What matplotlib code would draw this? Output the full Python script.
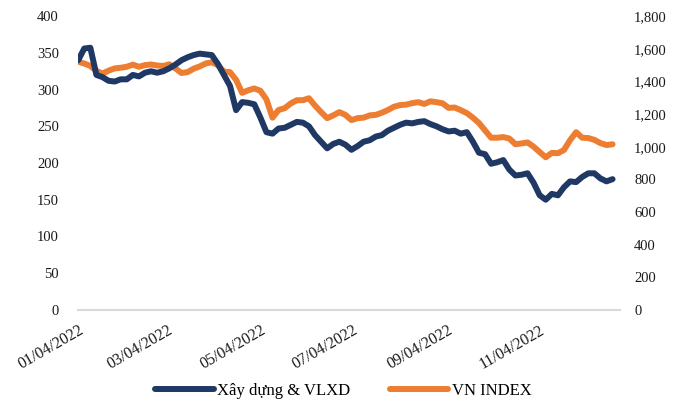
import matplotlib
matplotlib.use("Agg")
import matplotlib.pyplot as plt
import matplotlib.dates as mdates
import pandas as pd

# sampled every 4 calendar days from 04/01/2022
dates = pd.date_range("2022-01-04", periods=89, freq="4D")

xd_vlxd = [340, 356, 357, 320, 317, 312, 311, 314, 314, 320,
           318, 323, 325, 323, 325, 329, 334, 340, 344, 347,
           349, 348, 347, 335, 320, 305, 272, 283, 282, 280,
           262, 242, 240, 247, 248, 252, 256, 255, 250, 238,
           229, 220, 226, 229, 225, 218, 223, 229, 231, 236,
           238, 244, 248, 252, 255, 254, 256, 257, 253, 250,
           246, 243, 244, 240, 242, 229, 214, 212, 199, 201,
           204, 191, 183, 184, 186, 173, 156, 150, 158, 156,
           167, 175, 174, 181, 186, 186, 179, 175, 178]

vn_index = [1521, 1510, 1495, 1465, 1448, 1466, 1480, 1484, 1490, 1503,
            1490, 1500, 1504, 1498, 1495, 1505, 1480, 1452, 1457, 1478,
            1492, 1510, 1518, 1500, 1460, 1457, 1410, 1330, 1346, 1357,
            1343, 1290, 1178, 1225, 1236, 1265, 1285, 1285, 1297, 1252,
            1212, 1175, 1192, 1212, 1195, 1163, 1175, 1178, 1192, 1195,
            1208, 1225, 1245, 1255, 1258, 1267, 1273, 1262, 1278, 1273,
            1266, 1238, 1240, 1224, 1206, 1178, 1145, 1100, 1055, 1055,
            1059, 1050, 1015, 1020, 1026, 1000, 967, 935, 962, 960,
            980, 1040, 1089, 1055, 1053, 1042, 1022, 1010, 1015]

tick_dates = ["2022-01-04", "2022-03-04", "2022-05-04",
              "2022-07-04", "2022-09-04", "2022-11-04"]
left_ticks = [0, 50, 100, 150, 200, 250, 300, 350, 400]
right_ticks = [0, 200, 400, 600, 800, 1000, 1200, 1400, 1600, 1800]

BLUE = "#1F3864"
ORANGE = "#ED7D31"

plt.rcParams["font.family"] = ["Liberation Serif", "DejaVu Serif"]
plt.rcParams["font.size"] = 10.5

fig = plt.figure(figsize=(6.8, 4.05), dpi=100)
ax = fig.add_axes([0.115, 0.235, 0.797, 0.725])
ax2 = ax.twinx()

l1, = ax.plot(dates, xd_vlxd, color=BLUE, lw=4.3, solid_capstyle="round",
              solid_joinstyle="round", label="Xây dựng & VLXD", zorder=3)
l2, = ax2.plot(dates, vn_index, color=ORANGE, lw=4.3, solid_capstyle="round",
               solid_joinstyle="round", label="VN INDEX", zorder=2)

ax.set_zorder(ax2.get_zorder() + 1)
ax.patch.set_visible(False)

ax.set_ylim(0, 400)
ax2.set_ylim(0, 1800)
ax.set_yticks(left_ticks)
ax2.set_yticks(right_ticks)
ax2.set_yticklabels([f"{v:,}" for v in right_ticks])

ax.set_xlim(pd.Timestamp("2022-01-04"), pd.Timestamp("2022-12-27"))
ax.set_xticks(pd.to_datetime(tick_dates))
ax.xaxis.set_major_formatter(mdates.DateFormatter("%m/%d/%Y"))
for lbl in ax.get_xticklabels():
    lbl.set_rotation(30)
    lbl.set_ha("right")
    lbl.set_rotation_mode("anchor")
    lbl.set_fontsize(11.5)

for a in (ax, ax2):
    for s in a.spines.values():
        s.set_visible(False)
    a.tick_params(length=0, colors="#1a1a1a")
ax.spines["bottom"].set_visible(True)
ax.spines["bottom"].set_color("#D9D9D9")
ax.spines["bottom"].set_linewidth(1.5)
ax.tick_params(axis="y", pad=14)
ax.tick_params(axis="x", pad=9)
ax2.tick_params(axis="y", pad=10)

fig.legend(handles=[l1, l2], loc="lower center", bbox_to_anchor=(0.505, -0.022),
           ncol=2, frameon=False, handlelength=3.5, handletextpad=0.2,
           columnspacing=2.4, fontsize=12)

fig.savefig("out.png", dpi=100)
